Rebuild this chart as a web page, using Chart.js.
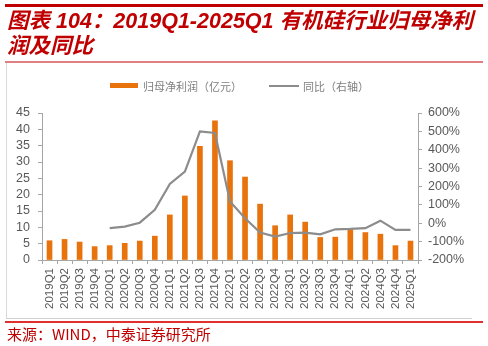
<!DOCTYPE html>
<html>
<head>
<meta charset="utf-8">
<script src="https://cdn.jsdelivr.net/npm/chart.js@4.4.1/dist/chart.umd.min.js"></script>
<style>
  body { margin: 0; background: #fff; }
  #wrap { position: relative; width: 488px; height: 346px; overflow: hidden; }
  #canvas { position: absolute; left: 0; top: 0; }
  .abs { position: absolute; }
  #title { left: 7px; top: 9px; font: italic bold 21.5px "Liberation Sans", "Noto Sans CJK SC", sans-serif;
           line-height: 25px; color: #c00000; white-space: nowrap; }
  #source { left: 7px; top: 323px; font: 15px "Noto Sans CJK SC", sans-serif; color: #c00000; white-space: nowrap; }
  .leg { font: 11px "Noto Sans CJK SC", sans-serif; color: #7f7f7f; top: 78px; white-space: nowrap; }
</style>
</head>
<body>
<div id="wrap">
  <canvas id="canvas" width="488" height="346"></canvas>
  <div class="abs" style="left:5px;top:4px;width:478px;height:2.5px;background:#c00000"></div>
  <div id="title" class="abs">图表 104：2019Q1-2025Q1 有机硅行业归母净利<br>润及同比</div>
  <div class="abs" style="left:5px;top:61px;width:478px;height:1.5px;background:#e08080"></div>
  <div class="abs" style="left:6px;top:63px;width:1px;height:256px;background:#d9d9d9"></div>
  <div class="abs" style="left:6px;top:318px;width:466px;height:1px;background:#d0d0d0"></div>
  <div class="abs" style="left:5px;top:321px;width:478px;height:1.5px;background:#e03030"></div>
  <div class="abs" style="left:110px;top:83px;width:28px;height:5px;background:#e8720c"></div>
  <div class="abs leg" style="left:143px">归母净利润（亿元）</div>
  <div class="abs" style="left:269px;top:84.5px;width:30px;height:2px;background:#8c8c8c"></div>
  <div class="abs leg" style="left:303px">同比（右轴）</div>
  <div id="source" class="abs">来源：WIND，中泰证券研究所</div>
</div>
<script>
const quarters = ['2019Q1', '2019Q2', '2019Q3', '2019Q4', '2020Q1', '2020Q2', '2020Q3', '2020Q4',
                  '2021Q1', '2021Q2', '2021Q3', '2021Q4', '2022Q1', '2022Q2', '2022Q3', '2022Q4',
                  '2023Q1', '2023Q2', '2023Q3', '2023Q4', '2024Q1', '2024Q2', '2024Q3', '2024Q4',
                  '2025Q1'];
// 归母净利润 (亿元)
const profit = [5.9, 6.3, 5.5, 4.1, 4.4, 5.1, 5.8, 7.3, 13.8, 19.6, 34.8, 42.6, 30.4, 25.4, 17.1, 10.5,
                13.8, 11.6, 6.9, 7.0, 9.2, 8.4, 7.9, 4.4, 5.8];
// 同比 (%), right axis
const yoy = [null, null, null, null, -27, -18, 3, 73, 214, 281, 500, 491, 118, 27, -51, -73,
             -53, -51, -60, -33, -31, -27, 14, -36, -36];

const axisColor = '#a6a6a6';
const tickColor = '#595959';
const latin = '"Liberation Sans", Arial, sans-serif';

const ctx = document.getElementById('canvas').getContext('2d');
const chart = new Chart(ctx, {
    data: {
        labels: quarters,
        datasets: [
            {type: 'line', label: '同比（右轴）', data: yoy, yAxisID: 'y1', order: 0,
             borderColor: '#8c8c8c', borderWidth: 2.2, pointRadius: 0, tension: 0, spanGaps: false},
            {type: 'bar', label: '归母净利润（亿元）', data: profit, yAxisID: 'y', order: 1,
             backgroundColor: '#e8720c', barThickness: 5}
        ]
    },
    options: {
        responsive: false,
        animation: false,
        devicePixelRatio: 1,
        layout: {padding: {top: 113, left: 0, right: 0, bottom: 0}},
        plugins: {legend: {display: false}, tooltip: {enabled: false}},
        scales: {
            x: {
                offset: true,
                grid: {display: true, drawOnChartArea: false, tickLength: 4, color: axisColor, offset: true},
                border: {color: axisColor},
                ticks: {minRotation: 90, maxRotation: 90, autoSkip: false, padding: 4,
                        color: tickColor, font: {family: latin, size: 11.5}},
                afterFit: function (s) { s.height = 86; }
            },
            y: {
                position: 'left', min: 0, max: 45,
                grid: {display: true, drawOnChartArea: false, tickLength: 4, color: axisColor},
                border: {color: axisColor},
                ticks: {stepSize: 5, autoSkip: false, padding: 8, color: tickColor,
                        font: {family: latin, size: 12.5}},
                afterFit: function (s) { s.width = 42; }
            },
            y1: {
                position: 'right', min: -200, max: 600,
                grid: {display: true, drawOnChartArea: false, tickLength: 4, color: axisColor},
                border: {color: axisColor},
                ticks: {stepSize: 100, autoSkip: false, padding: 6, color: tickColor,
                        font: {family: latin, size: 12.5},
                        callback: function (v) { return v + '%'; }},
                afterFit: function (s) { s.width = 70; }
            }
        }
    }
});
</script>
</body>
</html>
